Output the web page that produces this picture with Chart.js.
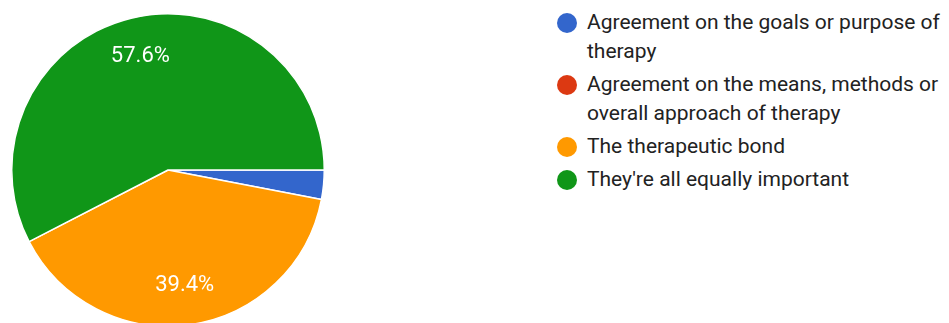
<!DOCTYPE html>
<html>
<head>
<meta charset="utf-8">
<script src="https://cdn.jsdelivr.net/npm/chart.js@4"></script>
<style>
  html, body { margin: 0; padding: 0; background: #fff; overflow: hidden; }
  body { width: 949px; height: 323px; position: relative; font-family: Roboto, Arial, sans-serif; }
  #wrap { position: absolute; left: 0; top: 0; width: 336px; height: 340px; }
  #leyenda { position: absolute; left: 557px; top: 8px; width: 392px; margin: 0; padding: 0; list-style: none; }
  #leyenda li { position: relative; padding-left: 30px; font-size: 21px; line-height: 29px; color: #222; margin-bottom: 4px; }
  #leyenda span.dot { position: absolute; left: 0; top: 5px; width: 20px; height: 20px; border-radius: 50%; }
</style>
</head>
<body>
<div id="wrap"><canvas id="grafico"></canvas></div>
<ul id="leyenda"></ul>
<script>
// datos
const categorias = [
    "Agreement on the goals or purpose of therapy",
    "Agreement on the means, methods or overall approach of therapy",
    "The therapeutic bond",
    "They're all equally important"
];
const respuestas = [1, 0, 13, 19];
const colores = ["#3366cc", "#dc3912", "#ff9900", "#109618"];

// leyenda a mano (la de Chart.js no corta las lineas)
const ley = document.getElementById('leyenda');
categorias.forEach((c, i) => {
    const li = document.createElement('li');
    li.innerHTML = `<span class="dot" style="background:${colores[i]}"></span>${c}`;
    ley.appendChild(li);
});

// porcentajes dentro de las porciones
const etiquetas = {
    id: 'etiquetas',
    afterDatasetsDraw(chart) {
        const ctx = chart.ctx;
        const total = respuestas.reduce((a, b) => a + b, 0);
        chart.getDatasetMeta(0).data.forEach((arc, i) => {
            const pct = respuestas[i] / total * 100;
            if (pct < 5) return;
            const p = arc.getProps(['x', 'y', 'startAngle', 'endAngle', 'outerRadius'], true);
            const mid = (p.startAngle + p.endAngle) / 2;
            const r = p.outerRadius * 0.75;
            ctx.save();
            ctx.fillStyle = '#fff';
            ctx.font = '22px Roboto, Arial, sans-serif';
            ctx.textAlign = 'center';
            ctx.textBaseline = 'middle';
            ctx.fillText(pct.toFixed(1) + '%', p.x + Math.cos(mid) * r, p.y + Math.sin(mid) * r);
            ctx.restore();
        });
    }
};

new Chart(document.getElementById('grafico'), {
    type: 'pie',
    data: {
        labels: categorias,
        datasets: [{
            data: respuestas,
            backgroundColor: colores,
            borderColor: '#fff',
            borderWidth: 1.5
        }]
    },
    options: {
        responsive: true,
        maintainAspectRatio: false,
        animation: false,
        rotation: 90,
        layout: { padding: { left: 11, right: 11, top: 13, bottom: 13 } },
        plugins: { legend: { display: false }, tooltip: { enabled: false } }
    },
    plugins: [etiquetas]
});
</script>
</body>
</html>
